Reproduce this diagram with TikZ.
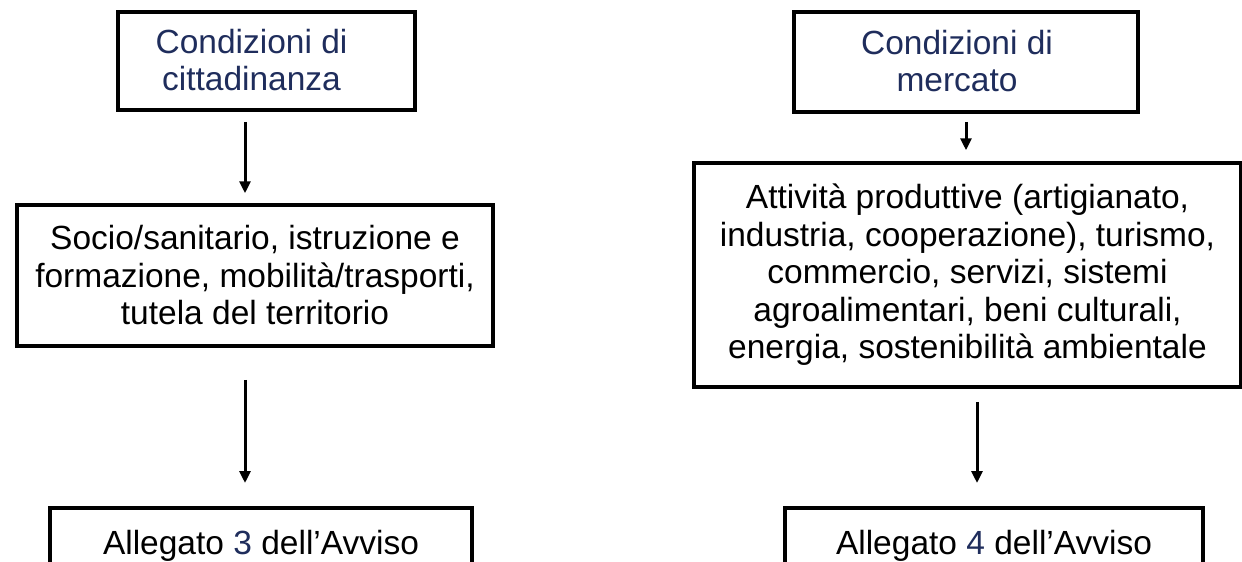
\documentclass[tikz,border=0pt]{standalone}
\usepackage{fontspec}
\setmainfont{Liberation Sans}
\usetikzlibrary{arrows.meta}
\definecolor{navy}{RGB}{31,45,92}
\tikzstyle{arrow} = [-{Triangle[width=11pt,length=12pt]},line width=3pt]
\tikzstyle{box} = [draw,line width=3.5pt,align=center,inner sep=0pt]
\tikzstyle{title} = [text=navy,align=center,inner sep=0pt]

\begin{document}
\begin{tikzpicture}[x=1pt,y=-1pt]
        \fontsize{33.5}{37.5}\selectfont
        \useasboundingbox (0,0) rectangle (1242,562);
        \clip (0,0) rectangle (1242,562);
        \node[box, minimum width=297pt, minimum height=98pt] at (266.5,61) (cit) {};
        \node[title] at ([xshift=-15pt,yshift=1pt]cit.center) (citlbl) {Condizioni di\\cittadinanza};
        \node[box, minimum width=344pt, minimum height=100pt] at (966,62) (mer) {};
        \node[title] at ([xshift=-9pt,yshift=1pt]mer.center) (merlbl) {Condizioni di\\mercato};
        \node[box, minimum width=476pt, minimum height=141pt] at (255,275.5) (soc) {Socio/sanitario, istruzione e\\formazione, mobilità/trasporti,\\tutela del territorio};
        \node[box, minimum width=547pt, minimum height=224pt] at (967.5,275) (att) {Attività produttive (artigianato,\\industria, cooperazione), turismo,\\commercio, servizi, sistemi\\agroalimentari, beni culturali,\\energia, sostenibilità ambientale};
        \node[box, anchor=north, minimum width=422pt, text height=47pt, text depth=60pt] at (261,506) (all3) {Allegato \textcolor{navy}{3} dell’Avviso};
        \node[box, anchor=north, minimum width=418pt, text height=47pt, text depth=60pt] at (994,506) (all4) {Allegato \textcolor{navy}{4} dell’Avviso};

        \draw[arrow, shorten <=10pt, shorten >=10pt] ([xshift=-21.5pt]cit.south) -- ([xshift=-21.5pt]cit.south |- soc.north);
        \draw[arrow, shorten <=32pt, shorten >=23pt] ([xshift=-10pt]soc.south) -- ([xshift=-10pt]soc.south |- all3.north);
        \draw[arrow, shorten <=8pt, shorten >=11pt] (mer.south) -- (mer.south |- att.north);
        \draw[arrow, shorten <=13pt, shorten >=23pt] ([xshift=9.5pt]att.south) -- ([xshift=9.5pt]att.south |- all4.north);

      \end{tikzpicture}
\end{document}
